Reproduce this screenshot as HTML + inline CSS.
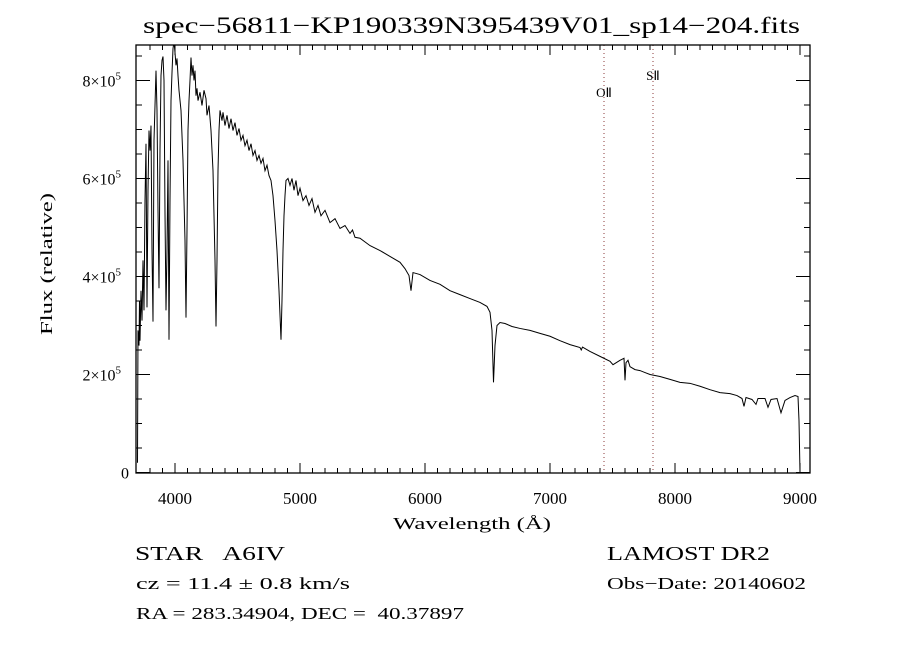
<!DOCTYPE html>
<html><head><meta charset="utf-8"><style>
html,body{margin:0;padding:0;background:#fff;}
svg{display:block;}
text{font-family:"Liberation Serif",serif;fill:#000;}
</style></head><body>
<svg id="chart" width="900" height="650" viewBox="0 0 900 650">
<text x="143" y="33" font-size="23" textLength="657" lengthAdjust="spacingAndGlyphs">spec−56811−KP190339N395439V01_sp14−204.fits</text>
<g id="plot"></g>
<text x="393" y="529" font-size="17" textLength="158" lengthAdjust="spacingAndGlyphs">Wavelength (Å)</text>
<text transform="translate(52,335) rotate(-90)" font-size="17" textLength="142" lengthAdjust="spacingAndGlyphs">Flux (relative)</text>
<text x="135" y="560" font-size="20" textLength="150" lengthAdjust="spacingAndGlyphs" xml:space="preserve" style="white-space:pre">STAR   A6IV</text>
<text x="136" y="589" font-size="17" textLength="214" lengthAdjust="spacingAndGlyphs">cz = 11.4 ± 0.8 km/s</text>
<text x="136" y="619" font-size="17" textLength="328" lengthAdjust="spacingAndGlyphs" xml:space="preserve" style="white-space:pre">RA = 283.34904, DEC =  40.37897</text>
<text x="607" y="560" font-size="20" textLength="163" lengthAdjust="spacingAndGlyphs">LAMOST DR2</text>
<text x="607" y="589" font-size="17" textLength="199" lengthAdjust="spacingAndGlyphs">Obs−Date: 20140602</text>
</svg>
<script>
const wavelengths=[3700,3704,3712,3716,3720,3728,3736,3744,3752,3760,3768,3776,3784,3792,3800,3808,3816,3824,3832,3848,3856,3864,3872,3880,3888,3896,3904,3912,3920,3928,3936,3944,3952,3960,3968,3976,3984,3992,4000,4008,4016,4024,4032,4048,4064,4080,4088,4096,4104,4112,4120,4128,4136,4144,4152,4160,4168,4176,4184,4200,4216,4232,4248,4256,4272,4288,4304,4320,4328,4336,4344,4352,4360,4376,4384,4400,4416,4432,4448,4464,4480,4496,4512,4528,4544,4560,4576,4592,4608,4624,4640,4656,4672,4688,4704,4720,4736,4752,4768,4784,4800,4816,4832,4848,4856,4864,4872,4880,4888,4904,4920,4936,4952,4968,4984,5000,5024,5048,5072,5096,5120,5144,5168,5200,5240,5280,5320,5360,5400,5420,5440,5480,5560,5640,5720,5800,5840,5872,5888,5904,5960,6040,6120,6200,6280,6360,6440,6496,6520,6536,6548,6560,6576,6600,6640,6696,6760,6840,6920,7000,7080,7160,7240,7250,7260,7320,7400,7480,7504,7560,7592,7600,7608,7624,7640,7680,7720,7760,7800,7880,7960,8040,8120,8200,8280,8360,8440,8496,8536,8552,8568,8616,8648,8664,8720,8744,8768,8816,8848,8880,8920,8960,8984,8992,9000];
const fluxes=[0.2,2.90,2.59,3.51,2.69,3.71,3.10,4.33,3.31,5.55,6.71,3.37,5.76,6.98,6.57,7.08,4.53,3.08,6.78,8.20,7.39,5.35,3.76,6.57,8.10,8.41,8.49,8.00,5.29,3.31,4.53,6.37,2.71,5.55,7.59,8.16,8.65,8.8,8.57,8.31,8.45,8.10,7.80,7.39,6.37,4.73,3.16,4.94,6.98,7.59,8.00,8.47,8.10,8.31,8.00,8.20,7.69,7.84,7.59,7.76,7.49,7.80,7.63,7.29,7.49,6.98,6.16,4.33,2.98,4.33,6.16,6.98,7.39,7.18,7.35,7.08,7.29,7.02,7.22,6.98,7.14,6.88,7.02,6.78,6.88,6.67,6.78,6.57,6.71,6.47,6.57,6.37,6.47,6.31,6.41,6.16,6.27,6.06,5.96,5.65,5.14,4.53,3.71,2.71,3.51,4.53,5.24,5.65,5.96,6.00,5.86,6.00,5.76,5.96,5.65,5.80,5.55,5.65,5.45,5.59,5.31,5.45,5.24,5.35,5.10,5.18,4.98,5.04,4.88,4.95,4.80,4.78,4.63,4.53,4.41,4.29,4.16,4.02,3.71,4.08,4.04,3.92,3.84,3.71,3.63,3.55,3.47,3.39,3.27,2.90,1.84,2.59,3.00,3.06,3.04,2.98,2.94,2.90,2.84,2.78,2.69,2.61,2.55,2.50,2.56,2.47,2.37,2.27,2.20,2.29,2.33,1.88,2.24,2.29,2.16,2.10,2.08,2.04,2.00,1.96,1.90,1.84,1.82,1.76,1.69,1.63,1.61,1.57,1.51,1.35,1.53,1.49,1.39,1.51,1.51,1.33,1.49,1.51,1.22,1.47,1.53,1.57,1.55,1.06,0];
const xTickValues=[4000,5000,6000,7000,8000,9000];
const xTickLabels=["4000","5000","6000","7000","8000","9000"];
const yTickValues=[0,2,4,6,8];
const yTickLabels=["0","2×10","4×10","6×10","8×10"];
const lineWavelengths=[7432,7824];
const lineNames=["OII","SII"];

const NS="http://www.w3.org/2000/svg";
const L=136,R=810,T=45,B=473;
function xs(w){return 175+(w-4000)*0.125;}
function ys(f){return 472.5-f*49;}
const plot=document.getElementById('plot');
function mk(tag,attrs,parent){const e=document.createElementNS(NS,tag);for(const k in attrs)e.setAttribute(k,attrs[k]);(parent||plot).appendChild(e);return e;}

const defs=mk('defs',{});
const cp=mk('clipPath',{id:'clip'},defs);
mk('rect',{x:L,y:T,width:R-L,height:B-T},cp);

lineWavelengths.forEach((w,i)=>{
  const ln=mk('line',{x1:xs(w),x2:xs(w),y1:T,y2:B,stroke:'#8b3a3a','stroke-width':1,'stroke-dasharray':'1,3'});
  
  
  const t=mk('text',{x:xs(w),y:i===0?97:80,'font-size':13,'text-anchor':'middle'});
  t.textContent=lineNames[i].replace('II','Ⅱ');
  
  
});

let d='';
wavelengths.forEach((w,i)=>{d+=(i?'L':'M')+xs(w).toFixed(2)+','+ys(fluxes[i]).toFixed(2);});
const sp=mk('path',{d:d,fill:'none',stroke:'#000','stroke-width':1,'clip-path':'url(#clip)'});



const fr=mk('rect',{x:L,y:T,width:R-L,height:B-T,fill:'none',stroke:'#000','stroke-width':1.3});



for(let w=3800;w<=9000;w+=100){
  const x=xs(w);if(x<L||x>R)continue;
  const major=w%1000===0;const len=major?10:5;
  mk('line',{x1:x,x2:x,y1:B,y2:B-len,stroke:'#000','stroke-width':1});
  mk('line',{x1:x,x2:x,y1:T,y2:T+len,stroke:'#000','stroke-width':1});
}
xTickValues.forEach((v,i)=>{
  const t=mk('text',{x:xs(v),y:504,'font-size':17,'text-anchor':'middle'});
  t.textContent=xTickLabels[i];
  
  
});
for(let f=0;f<=8.7;f+=0.5){
  const y=ys(f);const major=Math.abs(f%2)<1e-6;const len=major?14:6;
  mk('line',{x1:L,x2:L+len,y1:y,y2:y,stroke:'#000','stroke-width':1});
  mk('line',{x1:R,x2:R-len,y1:y,y2:y,stroke:'#000','stroke-width':1});
}
yTickValues.forEach((v,i)=>{
  const t=mk('text',{x:v===0?129:121,y:ys(v)+6,'font-size':16,'text-anchor':'end'});
  t.textContent=yTickLabels[i];
  if(v!==0){const s=mk('tspan',{dy:-7,'font-size':11},t);s.textContent='5';}
  
  
});
</script>
</body></html>
